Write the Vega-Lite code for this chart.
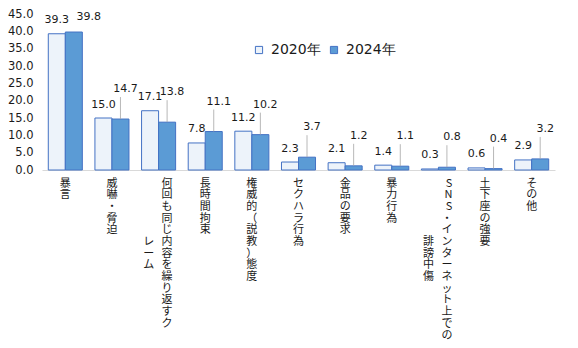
{
  "$schema": "https://vega.github.io/schema/vega-lite/v6.json",
  "width": 513,
  "height": 156,
  "autosize": {"type": "none"},
  "padding": {"left": 42, "top": 14, "right": 23, "bottom": 178},
  "background": "#ffffff",
  "config": {
    "view": {"stroke": null},
    "font": "DejaVu Sans",
    "axis": {"labelOverlap": false, "labelSeparation": 0},
    "axisY": {"labelOverlap": false, "labelSeparation": 0, "labelBound": false}
  },
  "data": {
    "values": [
      {"item": "暴言", "year": "2020年", "value": 39.3},
      {"item": "暴言", "year": "2024年", "value": 39.8},
      {"item": "威嚇・脅迫", "year": "2020年", "value": 15.0},
      {"item": "威嚇・脅迫", "year": "2024年", "value": 14.7},
      {"item": "何回も同じ内容を繰り返すクレーム", "year": "2020年", "value": 17.1},
      {"item": "何回も同じ内容を繰り返すクレーム", "year": "2024年", "value": 13.8},
      {"item": "長時間拘束", "year": "2020年", "value": 7.8},
      {"item": "長時間拘束", "year": "2024年", "value": 11.1},
      {"item": "権威的（説教）態度", "year": "2020年", "value": 11.2},
      {"item": "権威的（説教）態度", "year": "2024年", "value": 10.2},
      {"item": "セクハラ行為", "year": "2020年", "value": 2.3},
      {"item": "セクハラ行為", "year": "2024年", "value": 3.7},
      {"item": "金品の要求", "year": "2020年", "value": 2.1},
      {"item": "金品の要求", "year": "2024年", "value": 1.2},
      {"item": "暴力行為", "year": "2020年", "value": 1.4},
      {"item": "暴力行為", "year": "2024年", "value": 1.1},
      {"item": "SNS・インターネット上での誹謗中傷", "year": "2020年", "value": 0.3},
      {"item": "SNS・インターネット上での誹謗中傷", "year": "2024年", "value": 0.8},
      {"item": "土下座の強要", "year": "2020年", "value": 0.6},
      {"item": "土下座の強要", "year": "2024年", "value": 0.4},
      {"item": "その他", "year": "2020年", "value": 2.9},
      {"item": "その他", "year": "2024年", "value": 3.2}
    ]
  },
  "encoding": {
    "x": {
      "field": "item",
      "type": "nominal",
      "sort": null,
      "scale": {"paddingInner": 0.27, "paddingOuter": 0.135},
      "axis": {
        "title": null,
        "labelAngle": 0,
        "ticks": false,
        "domainColor": "#d9d9d9",
        "domainWidth": 1,
        "labelPadding": 7,
        "labelFont": "Noto Sans CJK JP",
        "labelFontSize": 11,
        "labelLineHeight": 11.7,
        "labelColor": "#1a1a1a",
        "labelBaseline": "top",
        "labelAlign": {"condition": {"test": "length(datum.label) > 12", "value": "right"}, "value": "center"},
        "labelOffset": {"condition": {"test": "length(datum.label) > 12", "value": 14}, "value": 0},
        "labelOverlap": false,
        "labelLimit": 0,
        "labelExpr": "datum.label == '何回も同じ内容を繰り返すクレーム' ? ['何','回','も','同','じ','レ\u00a0\u00a0\u00a0内','ー\u00a0\u00a0\u00a0容','ム\u00a0\u00a0\u00a0を','繰','り','返','す','ク'] : datum.label == 'SNS・インターネット上での誹謗中傷' ? ['S','N','S','・','イ','誹\u00a0\u00a0\u00a0ン','謗\u00a0\u00a0\u00a0タ','中\u00a0\u00a0\u00a0ー','傷\u00a0\u00a0\u00a0ネ','ッ','ト','上','で','の'] : split(datum.label, '')"
      }
    },
    "xOffset": {"field": "year", "type": "nominal", "sort": null},
    "y": {
      "field": "value",
      "type": "quantitative",
      "scale": {"domain": [0, 45], "nice": false},
      "axis": {
        "title": null,
        "values": [0, 5, 10, 15, 20, 25, 30, 35, 40, 45],
        "format": ".1f",
        "domain": false,
        "ticks": false,
        "grid": false,
        "labelOverlap": false,
        "labelPadding": 9,
        "labelFont": "DejaVu Sans",
        "labelFontSize": 11.5,
        "labelColor": "#1a1a1a"
      }
    }
  },
  "layer": [
    {
      "mark": {"type": "bar", "stroke": "#4472C4", "strokeWidth": 1},
      "encoding": {
        "color": {
          "field": "year",
          "type": "nominal",
          "sort": null,
          "scale": {"domain": ["2020年", "2024年"], "range": ["#edf3fa", "#5B9BD5"]},
          "legend": {
            "title": null,
            "orient": "none",
            "legendX": 210,
            "legendY": 29,
            "direction": "horizontal",
            "symbolType": "square",
            "symbolSize": 52,
            "symbolStrokeColor": "#4472C4",
            "symbolStrokeWidth": 1,
            "symbolOpacity": 1,
            "labelFont": "DejaVu Sans",
            "labelFontSize": 14,
            "labelColor": "#1a1a1a",
            "labelOffset": 5,
            "columnPadding": 6
          }
        }
      }
    },
    {
      "transform": [{"filter": "datum.year == '2020年'"}],
      "mark": {"type": "text", "baseline": "middle", "dy": -13.5, "font": "DejaVu Sans", "fontSize": 11, "color": "#1a1a1a"},
      "encoding": {
        "text": {"field": "value", "type": "quantitative", "format": ".1f"}
      }
    },
    {
      "transform": [{"filter": "datum.year == '2024年' && datum.item != '暴言'"}],
      "mark": {"type": "rule", "y2Offset": -22, "color": "#a6a6a6", "strokeWidth": 0.8},
      "encoding": {
        "y2": {"field": "value"}
      }
    },
    {
      "transform": [{"filter": "datum.year == '2024年' && datum.item != '暴言'"}],
      "mark": {"type": "text", "baseline": "middle", "dx": 5, "dy": -30, "font": "DejaVu Sans", "fontSize": 11, "color": "#1a1a1a"},
      "encoding": {
        "text": {"field": "value", "type": "quantitative", "format": ".1f"}
      }
    },
    {
      "transform": [{"filter": "datum.year == '2024年' && datum.item == '暴言'"}],
      "mark": {"type": "text", "baseline": "middle", "dx": 15, "dy": -15, "font": "DejaVu Sans", "fontSize": 11, "color": "#1a1a1a"},
      "encoding": {
        "text": {"field": "value", "type": "quantitative", "format": ".1f"}
      }
    }
  ]
}
